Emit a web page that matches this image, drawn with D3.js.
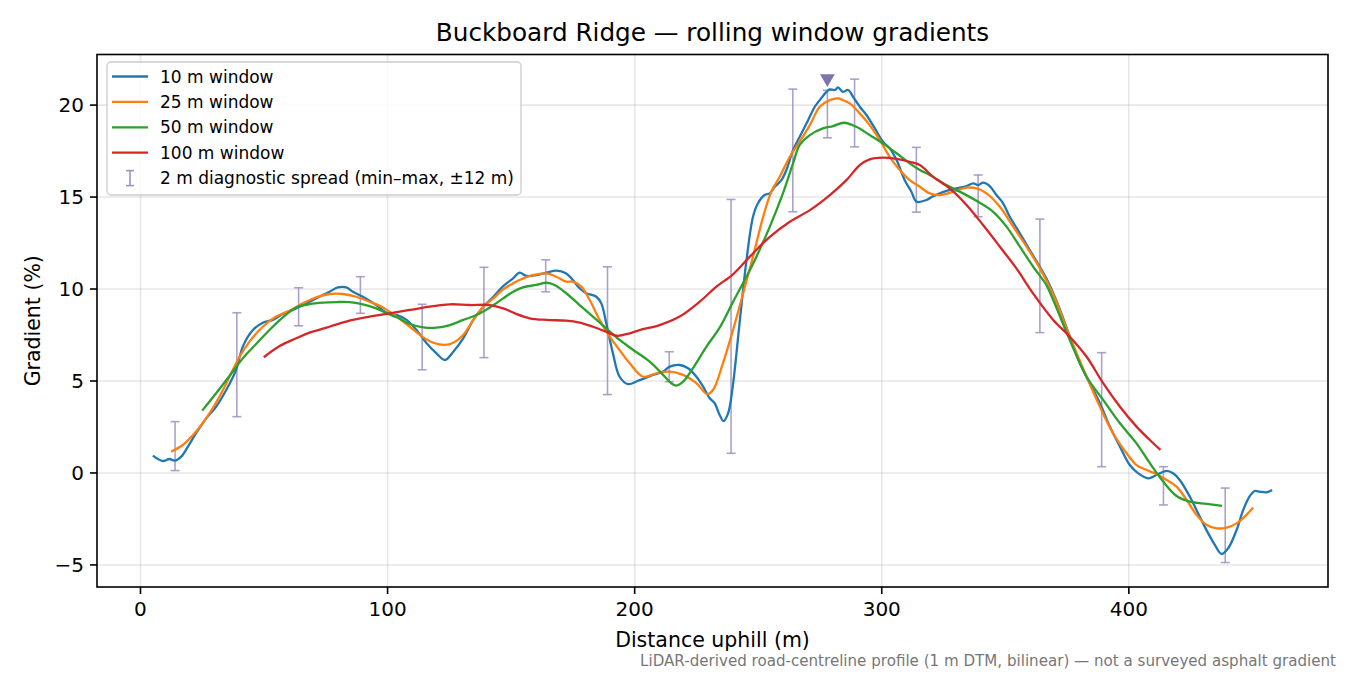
<!DOCTYPE html>
<html><head><meta charset="utf-8">
<script src="https://cdn.jsdelivr.net/npm/d3@7"></script>
<style>body{margin:0;background:#fff}svg{display:block}text{font-family:"DejaVu Sans",sans-serif}</style>
</head><body><svg id="c" width="1350" height="675"></svg>
<script>
// ---------- data ----------
const xTicks = [0, 100, 200, 300, 400];
const yTicks = [-5, 0, 5, 10, 15, 20];
const seriesNames = ["10 m window", "25 m window", "50 m window", "100 m window"];
const seriesColors = ["#1f77b4", "#ff7f0e", "#2ca02c", "#d62728"];

const dist10 = [5,9,11.7,13.8,16.5,19.2,22.5,26.6,30.6,34.7,38.7,41.4,45.5,49.5,53.6,57.6,63,68.4,73.8,76.5,79.9,83.3,86,90,95.4,100,103.6,107.7,111.7,115.8,119.8,123.2,126.6,130.6,134.7,138.7,142.8,146.8,150.8,153.4,156.2,160.2,164.3,168.3,172.3,175,177.7,180.4,184.5,186.5,188.5,191.2,193.9,197.3,201.5,207.4,211.5,214.2,218.2,221.6,225,227.7,230.4,232.4,234.4,236,237.8,239.5,242.5,245.2,247.9,249.9,252.6,254.7,256.7,259.4,261.4,264.1,266.8,270.2,272.9,274.9,277.6,278.9,281,282.3,284.3,286.4,288.4,291.1,293.8,297.2,300.5,303.2,306,309.3,312,314.1,318.1,320.8,323.5,326.2,330.2,334.3,337,339,341,343.7,346.4,349.1,351.8,355.9,359.9,364,367.3,369.4,372.7,376.1,380.2,384.2,388.3,392.3,396.4,400.4,403.8,407.8,411.2,415.3,417.9,420.6,424.7,428.7,432.1,434.8,437.5,440.2,443.6,446.3,449,451,453,455.7,458];
const grad10 = [0.94,0.65,0.76,0.67,0.89,1.43,2.16,2.97,3.6,4.51,5.6,6.87,7.77,8.17,8.32,8.64,8.95,9.31,9.67,9.85,10.09,10.09,9.85,9.58,9.13,8.68,8.59,8.32,7.77,7.05,6.5,6.14,6.59,7.32,8.32,9.04,9.58,10.16,10.58,10.89,10.71,10.76,10.89,11.0,10.85,10.49,10.04,9.77,9.58,9.22,8.14,6.5,5.23,4.83,5.02,5.33,5.51,5.78,5.87,5.69,5.23,4.69,4.06,3.79,3.15,2.82,3.24,4.5,8.2,11.5,13.93,14.66,15.11,15.2,15.56,15.92,16.47,17.55,18.28,19.18,19.91,20.27,20.72,20.85,20.82,20.96,20.72,20.82,20.45,19.91,19.46,18.73,18.01,17.65,17.01,15.92,15.29,14.75,14.84,15.05,15.2,15.34,15.47,15.6,15.74,15.65,15.78,15.6,15.11,14.66,13.93,13.03,12.12,11.2,10.4,9.77,8.68,7.41,5.96,4.88,3.79,2.52,1.43,0.43,-0.02,-0.29,-0.11,0.11,-0.02,-0.38,-1.29,-2.38,-3.28,-3.91,-4.4,-4.09,-3.1,-2.01,-1.25,-0.98,-1.02,-1.05,-0.92];

const dist25 = [12.4,17.1,22.5,27.9,32,36,40.1,44.1,49.5,54.9,60.3,65.7,71.1,76.5,81.9,87.3,92.7,98.1,103.6,109,114.4,118.5,123.2,126.6,130.6,134.7,138.7,142.8,146.8,150.9,153.4,158.8,164.3,168.3,172.3,175,178.4,181.8,185.8,189.9,193.9,198,203.4,208.8,214.2,219.6,225,229.3,231.7,235.8,239.8,243.9,247.9,252,255.3,258.7,262.8,266.8,270.9,274.9,279,282.3,284.3,287,291.1,295.1,299.2,303.2,307.3,311.3,315.4,319.4,323.5,328.9,334.3,338.3,342.4,347.8,353.2,358.6,364,369.4,376.1,382.9,388.3,393.6,399.1,403.1,407.2,411.2,415.3,419.3,423.4,427.4,431.5,435.5,439.6,443.6,447.6,450.3];
const grad25 = [1.16,1.52,2.25,3.24,4.15,5.23,6.32,7.14,7.95,8.5,8.82,9.22,9.55,9.73,9.73,9.58,9.31,9.0,8.5,7.95,7.37,7.08,6.96,7.08,7.5,8.32,9.04,9.49,9.98,10.31,10.49,10.76,10.85,10.67,10.4,10.4,10.13,9.4,8.32,7.41,6.68,5.96,5.23,5.42,5.51,5.33,4.88,4.29,4.51,6.0,7.77,9.77,11.76,13.93,15.29,16.1,17.19,18.01,18.91,19.91,20.27,20.36,20.27,20.09,19.55,18.91,18.1,17.19,16.47,15.92,15.56,15.2,15.11,15.29,15.51,15.47,15.2,14.47,13.39,12.3,11.12,9.7,7.41,5.23,3.6,2.16,1.07,0.43,0.16,-0.07,-0.38,-0.74,-1.47,-2.28,-2.83,-3.01,-2.97,-2.74,-2.28,-1.88];

const dist50 = [25,30.6,36,41.4,46.8,52.2,57.6,63,68.4,73.8,79.2,84.6,90,95.4,100.8,104,109,114.4,119.8,125.2,130.6,136,141.4,146.8,150.8,154.8,160.2,164.3,167.6,172.3,177.7,183.1,188.5,193.9,199.3,206.1,211.5,214.8,216.9,219.6,223.6,229,234.4,239.8,245.2,249.3,254.7,260,264.1,266.8,270.9,276.2,280.3,284.7,289.7,295.1,300.5,306,311.3,315.4,319.4,326.2,332.9,339.7,345.1,350.5,355.9,361.3,366.7,369.4,376.1,382.9,389.6,396.4,403.1,408.5,413.9,419.3,424.7,431.5,437.7];
const grad50 = [3.39,4.33,5.27,6.23,7.01,7.77,8.46,9.0,9.18,9.26,9.29,9.29,9.17,8.95,8.62,8.45,8.1,7.92,7.9,8.04,8.32,8.59,9.0,9.49,9.85,10.09,10.22,10.34,10.22,9.77,9.13,8.5,7.86,7.23,6.7,6.05,5.33,4.88,4.75,4.96,5.7,6.86,7.9,9.3,10.67,11.76,13.39,15.2,16.83,17.83,18.37,18.73,18.86,19.04,18.82,18.37,17.92,17.38,16.83,16.47,16.2,15.65,15.2,14.69,14.2,13.39,12.3,11.21,10.2,9.4,7.23,5.23,3.97,2.7,1.61,0.53,-0.47,-1.25,-1.56,-1.68,-1.79];

const dist100 = [49.9,56.3,63,68.4,76.5,84.6,92.7,100.8,109,117.1,125.2,133.3,141.4,146.8,152,157.5,164.3,172.3,177.7,183.1,188.5,192.6,198,202,210.1,218.2,226.3,233.1,239.8,246.6,254.7,262.8,270.9,279,285.7,291.1,295.1,300.5,306,311.3,315.4,320.8,327.5,334.3,341,347.8,354.5,361.3,369.4,376.1,382.9,389.6,396.4,403.1,408.5,412.8];
const grad100 = [6.29,6.9,7.32,7.63,7.95,8.28,8.5,8.68,8.86,9.04,9.17,9.13,9.13,8.95,8.65,8.41,8.32,8.28,8.17,7.95,7.68,7.46,7.59,7.77,8.04,8.5,9.31,10.13,10.8,11.76,12.84,13.66,14.29,15.11,15.92,16.74,17.05,17.14,17.07,16.92,16.74,16.1,15.47,14.57,13.48,12.3,11.12,9.75,8.32,7.41,6.32,4.88,3.6,2.52,1.79,1.25];

const spreadX  = [14,39,64,89,114,139,164,189,214,239,264,278,289,314,339,364,389,414,439];
const spreadLo = [0.13,3.06,8.0,8.68,5.61,6.27,9.85,4.26,4.96,1.07,14.2,18.22,17.73,14.18,13.93,7.63,0.34,-1.74,-4.87];
const spreadHi = [2.79,8.71,10.07,10.67,9.17,11.18,11.59,11.21,6.59,14.87,20.87,20.8,21.41,17.7,16.2,13.8,6.54,0.34,-0.82];
const spreadLabel = "2 m diagnostic spread (min\u2013max, \u00b112 m)";

const peakX = [278];
const peakY = [21.45];

const titleText = "Buckboard Ridge \u2014 rolling window gradients";
const xLabel = "Distance uphill (m)";
const yLabel = "Gradient (%)";
const footText = "LiDAR-derived road-centreline profile (1 m DTM, bilinear) \u2014 not a surveyed asphalt gradient";

// ---------- drawing ----------
const svg = d3.select("#c");
const L = 97, R = 1328, T = 54.5, B = 587;
const x = d3.scaleLinear().domain([-17.6, 480.6]).range([L, R]);
const y = d3.scaleLinear().domain([-6.2, 22.75]).range([B, T]);

svg.append("rect").attr("width",1350).attr("height",675).attr("fill","#fff");

// grid
const grid = svg.append("g");
grid.selectAll(".gx").data(xTicks).join("line")
  .attr("x1",d=>x(d)).attr("x2",d=>x(d)).attr("y1",T).attr("y2",B)
  .attr("stroke","#b0b0b0").attr("stroke-opacity",0.3).attr("stroke-width",1.6);
grid.selectAll(".gy").data(yTicks).join("line")
  .attr("y1",d=>y(d)).attr("y2",d=>y(d)).attr("x1",L).attr("x2",R)
  .attr("stroke","#b0b0b0").attr("stroke-opacity",0.3).attr("stroke-width",1.6);

// error bars
const errColor = "#9d91c0";
const eb = svg.append("g").attr("stroke",errColor).attr("stroke-width",1.6).attr("stroke-opacity",0.85);
spreadX.forEach((d,i)=>{
  eb.append("line").attr("x1",x(d)).attr("x2",x(d)).attr("y1",y(spreadLo[i])).attr("y2",y(spreadHi[i]));
  eb.append("line").attr("x1",x(d)-4.5).attr("x2",x(d)+4.5).attr("y1",y(spreadLo[i])).attr("y2",y(spreadLo[i]));
  eb.append("line").attr("x1",x(d)-4.5).attr("x2",x(d)+4.5).attr("y1",y(spreadHi[i])).attr("y2",y(spreadHi[i]));
});

// lines
const line = d3.line().x(d=>x(d[0])).y(d=>y(d[1])).curve(d3.curveCatmullRom.alpha(0.5));
const series = [[dist10,grad10],[dist25,grad25],[dist50,grad50],[dist100,grad100]];
series.forEach((s,i)=>{
  const pts = s[0].map((d,j)=>[d,s[1][j]]);
  svg.append("path").attr("d",line(pts)).attr("fill","none")
    .attr("stroke",seriesColors[i]).attr("stroke-width",2.3)
    .attr("stroke-linejoin","round").attr("stroke-linecap","butt");
});

// peak marker
svg.selectAll(".pk").data(peakX).join("path")
  .attr("d",d3.symbol().type(d3.symbolTriangle).size(95))
  .attr("transform",(d,i)=>`translate(${x(d)},${y(peakY[i])}) rotate(180)`)
  .attr("fill","#8074aa");

// axes frame
svg.append("rect").attr("x",L).attr("y",T).attr("width",R-L).attr("height",B-T)
  .attr("fill","none").attr("stroke","#000").attr("stroke-width",1.6);

// x ticks
const xa = svg.append("g");
xTicks.forEach(t=>{
  xa.append("line").attr("x1",x(t)).attr("x2",x(t)).attr("y1",B).attr("y2",B+7).attr("stroke","#000").attr("stroke-width",1.6);
  xa.append("text").attr("x",x(t)).attr("y",B+29).attr("text-anchor","middle").attr("font-size",20).attr("fill","#000").text(d3.format("d")(t));
});
// y ticks
const ya = svg.append("g");
yTicks.forEach(t=>{
  ya.append("line").attr("x1",L-7).attr("x2",L).attr("y1",y(t)).attr("y2",y(t)).attr("stroke","#000").attr("stroke-width",1.6);
  ya.append("text").attr("x",L-13).attr("y",y(t)).attr("dy","0.36em").attr("text-anchor","end").attr("font-size",20).attr("fill","#000")
    .text(t<0 ? "\u2212"+Math.abs(t) : String(t));
});

// labels
svg.append("text").attr("x",(L+R)/2).attr("y",41).attr("text-anchor","middle").attr("font-size",24.7).attr("fill","#000").text(titleText);
svg.append("text").attr("x",(L+R)/2).attr("y",647).attr("text-anchor","middle").attr("font-size",20.5).attr("fill","#000").text(xLabel);
svg.append("text").attr("transform",`translate(40,${(T+B)/2}) rotate(-90)`).attr("text-anchor","middle").attr("font-size",20.5).attr("fill","#000").text(yLabel);
svg.append("text").attr("x",1336).attr("y",666).attr("text-anchor","end").attr("font-size",15.1).attr("fill","#777").text(footText);

// legend
const lg = svg.append("g");
lg.append("rect").attr("x",107).attr("y",62).attr("width",414).attr("height",133).attr("rx",4)
  .attr("fill","#fff").attr("fill-opacity",0.8).attr("stroke","#cccccc").attr("stroke-width",1.3);
const rowY = i => 76.5 + i*25.4;
seriesNames.forEach((n,i)=>{
  lg.append("line").attr("x1",112).attr("x2",148).attr("y1",rowY(i)).attr("y2",rowY(i)).attr("stroke",seriesColors[i]).attr("stroke-width",2.3);
  lg.append("text").attr("x",160).attr("y",rowY(i)).attr("dy","0.36em").attr("font-size",17).attr("fill","#000").text(n);
});
const ey = rowY(4);
lg.append("g").attr("stroke",errColor).attr("stroke-width",1.6)
  .call(g=>{
    g.append("line").attr("x1",130).attr("x2",130).attr("y1",ey-7.5).attr("y2",ey+7.5);
    g.append("line").attr("x1",126).attr("x2",134).attr("y1",ey-7.5).attr("y2",ey-7.5);
    g.append("line").attr("x1",126).attr("x2",134).attr("y1",ey+7.5).attr("y2",ey+7.5);
  });
lg.append("text").attr("x",160).attr("y",ey).attr("dy","0.36em").attr("font-size",17).attr("fill","#000").text(spreadLabel);
</script></body></html>
